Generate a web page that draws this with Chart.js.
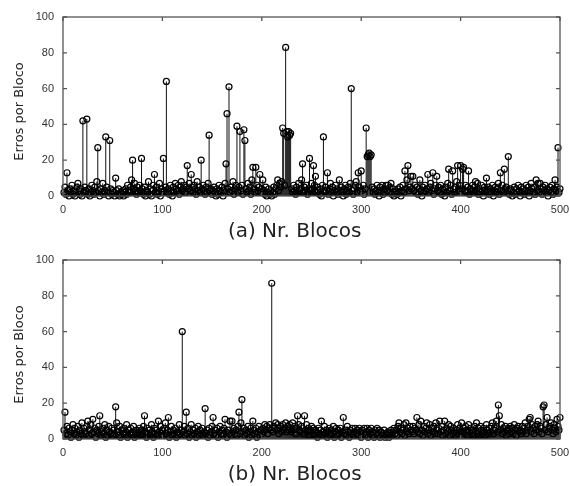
<!DOCTYPE html>
<html>
<head>
<meta charset="utf-8">
<title>Erros por Bloco</title>
<script src="https://cdn.jsdelivr.net/npm/chart.js@4.4.1/dist/chart.umd.min.js"></script>
<style>
    html, body { margin: 0; padding: 0; background: #fff; }
    canvas { display: block; }
</style>
</head>
<body>
<canvas id="chart-a" width="570" height="243"></canvas>
<canvas id="chart-b" width="570" height="243"></canvas>
<script>
// Erros por bloco, blocos 1..500
const errosA = [
    2, 5, 1, 13, 3, 0, 4, 2, 6, 1, 3, 0, 2, 5, 7, 3, 1, 4, 0, 42, 2, 5, 3, 43, 1,
    4, 0, 2, 6, 3, 1, 5, 2, 8, 27, 3, 0, 4, 2, 7, 1, 3, 33, 5, 2, 0, 31, 4, 1, 3,
    2, 0, 10, 3, 1, 4, 0, 2, 1, 3, 0, 2, 4, 1, 6, 3, 2, 5, 9, 20, 4, 7, 3, 1, 5,
    2, 6, 3, 21, 4, 1, 5, 0, 3, 2, 8, 1, 4, 0, 3, 6, 12, 2, 5, 1, 3, 7, 0, 4, 2,
    21, 3, 5, 64, 2, 4, 1, 6, 3, 0, 5, 2, 7, 4, 3, 6, 1, 5, 8, 3, 4, 6, 2, 5, 17,
    4, 7, 3, 12, 5, 2, 6, 4, 1, 8, 3, 5, 2, 20, 4, 6, 3, 1, 5, 2, 7, 34, 3, 4, 1,
    3, 5, 2, 0, 4, 1, 6, 3, 2, 5, 0, 3, 7, 18, 46, 4, 61, 2, 5, 3, 8, 1, 4, 6, 39,
    2, 5, 36, 3, 6, 1, 37, 31, 4, 2, 7, 3, 5, 1, 9, 16, 4, 2, 16, 6, 3, 5, 12, 2, 4,
    9, 3, 1, 5, 0, 2, 4, 1, 3, 0, 2, 5, 1, 4, 6, 9, 3, 7, 5, 8, 38, 35, 6, 83, 36,
    33, 36, 34, 35, 4, 2, 6, 3, 1, 5, 2, 7, 3, 4, 9, 18, 2, 5, 3, 6, 1, 4, 21, 3, 7,
    4, 17, 6, 11, 2, 5, 3, 1, 4, 0, 6, 33, 2, 5, 3, 13, 1, 4, 7, 2, 5, 0, 3, 6, 2,
    4, 1, 9, 3, 5, 2, 0, 4, 6, 1, 3, 5, 2, 7, 60, 3, 1, 4, 6, 8, 2, 13, 5, 3, 14,
    3, 6, 1, 4, 38, 22, 23, 24, 22, 23, 5, 2, 4, 1, 3, 6, 2, 0, 5, 3, 6, 1, 4, 2, 6,
    3, 6, 2, 5, 7, 1, 4, 0, 2, 3, 1, 4, 2, 5, 0, 3, 6, 2, 14, 4, 9, 17, 3, 5, 11,
    4, 11, 3, 6, 2, 5, 1, 4, 9, 3, 0, 5, 2, 6, 3, 4, 12, 2, 5, 7, 3, 13, 1, 4, 6,
    11, 3, 5, 2, 6, 1, 4, 3, 0, 5, 2, 7, 15, 3, 6, 1, 14, 4, 2, 5, 8, 17, 3, 6, 17,
    4, 15, 16, 3, 6, 2, 5, 14, 1, 4, 3, 6, 2, 5, 8, 3, 7, 1, 4, 2, 6, 3, 0, 5, 2,
    10, 3, 5, 1, 4, 2, 6, 0, 3, 5, 2, 4, 7, 1, 13, 3, 6, 2, 15, 4, 5, 3, 22, 1, 4,
    3, 0, 2, 5, 1, 4, 2, 6, 3, 0, 5, 2, 4, 1, 3, 6, 2, 5, 0, 3, 7, 4, 2, 5, 1,
    9, 3, 7, 2, 7, 4, 1, 5, 3, 6, 2, 4, 0, 3, 5, 2, 6, 1, 4, 9, 3, 5, 27, 2, 4
];

const errosB = [
    5, 15, 3, 7, 2, 6, 4, 1, 5, 8, 3, 6, 2, 4, 7, 1, 5, 3, 9, 2, 6, 4, 3, 7, 10,
    2, 5, 8, 3, 11, 4, 6, 1, 5, 3, 7, 13, 2, 4, 6, 3, 8, 1, 5, 2, 7, 4, 3, 6, 2,
    5, 3, 18, 9, 4, 2, 7, 1, 5, 3, 6, 2, 4, 8, 1, 5, 3, 6, 2, 4, 7, 1, 3, 5, 2,
    4, 6, 2, 5, 3, 7, 13, 4, 1, 6, 3, 5, 2, 8, 4, 1, 6, 3, 5, 2, 10, 4, 7, 3, 5,
    2, 6, 9, 3, 5, 12, 1, 4, 7, 2, 5, 3, 6, 1, 4, 2, 8, 3, 5, 60, 4, 7, 2, 15, 3,
    6, 1, 4, 8, 2, 5, 3, 6, 1, 4, 7, 2, 5, 3, 6, 2, 4, 17, 3, 5, 1, 6, 2, 4, 7,
    12, 3, 5, 2, 6, 1, 4, 7, 3, 5, 2, 6, 11, 4, 1, 5, 3, 10, 2, 10, 4, 6, 3, 5, 2,
    7, 15, 3, 9, 22, 4, 6, 2, 5, 3, 7, 1, 4, 6, 2, 10, 5, 3, 6, 1, 4, 7, 2, 5, 3,
    6, 4, 8, 5, 7, 3, 6, 8, 5, 87, 4, 7, 6, 9, 5, 8, 3, 6, 7, 4, 8, 5, 6, 9, 4,
    7, 5, 8, 6, 4, 9, 5, 7, 3, 6, 13, 8, 5, 4, 7, 6, 3, 13, 5, 8, 4, 6, 2, 5, 7,
    3, 6, 2, 5, 4, 1, 6, 3, 5, 10, 2, 4, 7, 3, 5, 1, 4, 6, 2, 5, 3, 7, 1, 4, 6,
    2, 5, 3, 6, 1, 4, 12, 3, 5, 2, 7, 4, 1, 5, 3, 6, 2, 4, 6, 3, 5, 2, 6, 4, 1,
    5, 3, 6, 2, 4, 6, 1, 5, 3, 6, 2, 4, 1, 5, 3, 6, 2, 5, 1, 4, 3, 2, 5, 1, 3,
    2, 4, 1, 3, 5, 2, 4, 6, 3, 5, 2, 7, 9, 4, 6, 3, 5, 8, 2, 9, 4, 6, 3, 7, 5,
    4, 7, 3, 6, 5, 12, 4, 8, 3, 10, 5, 2, 7, 4, 6, 9, 3, 5, 8, 2, 6, 4, 7, 3, 9,
    5, 3, 6, 10, 4, 7, 2, 5, 10, 3, 6, 4, 8, 2, 7, 5, 3, 6, 4, 2, 5, 8, 3, 6, 4,
    9, 4, 6, 3, 7, 5, 2, 8, 4, 6, 3, 5, 2, 7, 4, 9, 3, 6, 2, 7, 5, 3, 6, 4, 2,
    8, 5, 3, 6, 4, 7, 9, 3, 5, 6, 10, 4, 19, 13, 5, 8, 3, 6, 4, 7, 2, 5, 6, 3, 7,
    4, 6, 3, 8, 5, 2, 6, 7, 4, 5, 3, 7, 4, 6, 9, 3, 5, 7, 11, 12, 4, 8, 6, 3, 7,
    5, 8, 10, 4, 7, 6, 3, 18, 19, 5, 8, 12, 4, 6, 7, 9, 5, 3, 8, 6, 4, 11, 7, 5, 12
];

const xTicks = [0, 100, 200, 300, 400, 500];
const yTicks = [0, 20, 40, 60, 80, 100];
const yLabel = 'Erros por Bloco';
const titleA = '(a) Nr. Blocos';
const titleB = '(b) Nr. Blocos';

// stem lines from the zero line up to each point
const stemPlugin = {
    id: 'stems',
    beforeDatasetsDraw(chart) {
        const ctx = chart.ctx;
        const base = chart.scales.y.getPixelForValue(0);
        ctx.save();
        ctx.strokeStyle = '#111';
        ctx.lineWidth = 1;
        chart.getDatasetMeta(0).data.forEach(pt => {
            ctx.beginPath();
            ctx.moveTo(pt.x, base);
            ctx.lineTo(pt.x, pt.y);
            ctx.stroke();
        });
        ctx.restore();
    }
};

// matlab style box with inward ticks, plus axis labels
const boxPlugin = {
    id: 'box',
    afterDraw(chart, args, opts) {
        const { ctx, chartArea: a, scales } = chart;
        const len = 4;
        ctx.save();
        ctx.strokeStyle = '#555';
        ctx.lineWidth = 1.3;
        ctx.strokeRect(a.left, a.top, a.right - a.left, a.bottom - a.top);
        ctx.beginPath();
        xTicks.forEach(v => {
            const px = scales.x.getPixelForValue(v);
            ctx.moveTo(px, a.bottom); ctx.lineTo(px, a.bottom - len);
            ctx.moveTo(px, a.top); ctx.lineTo(px, a.top + len);
        });
        yTicks.forEach(v => {
            const py = scales.y.getPixelForValue(v);
            ctx.moveTo(a.left, py); ctx.lineTo(a.left + len, py);
            ctx.moveTo(a.right, py); ctx.lineTo(a.right - len, py);
        });
        ctx.stroke();

        ctx.fillStyle = '#222';
        ctx.textAlign = 'center';
        ctx.textBaseline = 'middle';
        ctx.font = '20px "DejaVu Sans", sans-serif';
        ctx.fillText(opts.xTitle, scales.x.getPixelForValue(233), a.bottom + 36);

        ctx.translate(20, (a.top + a.bottom) / 2 + 5);
        ctx.rotate(-Math.PI / 2);
        ctx.font = '13px "DejaVu Sans", sans-serif';
        ctx.fillText(yLabel, 0, 0);
        ctx.restore();
    }
};

function makeStemChart(canvasId, values, xTitle) {
    const ctx = document.getElementById(canvasId).getContext('2d');
    return new Chart(ctx, {
        type: 'scatter',
        data: {
            datasets: [{
                data: values.map((v, i) => ({ x: i + 1, y: v })),
                pointStyle: 'circle',
                pointRadius: 3,
                pointBorderWidth: 1.2,
                pointBorderColor: '#000',
                pointBackgroundColor: 'rgba(255,255,255,0)',
                showLine: false,
                clip: false
            }]
        },
        options: {
            responsive: false,
            animation: false,
            layout: { padding: { top: 17, right: 10, left: 0, bottom: 0 } },
            plugins: {
                legend: { display: false },
                tooltip: { enabled: false },
                box: { xTitle: xTitle }
            },
            scales: {
                x: {
                    type: 'linear',
                    min: 0,
                    max: 500,
                    afterBuildTicks: scale => { scale.ticks = xTicks.map(v => ({ value: v })); },
                    afterFit: scale => {
                        scale.height = 47;
                        scale.paddingLeft = 0;
                        scale.paddingRight = 0;
                    },
                    grid: { display: false, drawTicks: false },
                    border: { display: false },
                    ticks: {
                        padding: 7,
                        color: '#333',
                        maxRotation: 0,
                        font: { family: 'Liberation Sans, Arial, sans-serif', size: 11 }
                    }
                },
                y: {
                    min: 0,
                    max: 100,
                    afterBuildTicks: scale => { scale.ticks = yTicks.map(v => ({ value: v })); },
                    afterFit: scale => {
                        scale.width = 63;
                        scale.paddingTop = 0;
                        scale.paddingBottom = 0;
                    },
                    grid: { display: false, drawTicks: false },
                    border: { display: false },
                    ticks: {
                        padding: 9,
                        color: '#333',
                        font: { family: 'Liberation Sans, Arial, sans-serif', size: 11 }
                    }
                }
            }
        },
        plugins: [stemPlugin, boxPlugin]
    });
}

makeStemChart('chart-a', errosA, titleA);
makeStemChart('chart-b', errosB, titleB);
</script>
</body>
</html>
